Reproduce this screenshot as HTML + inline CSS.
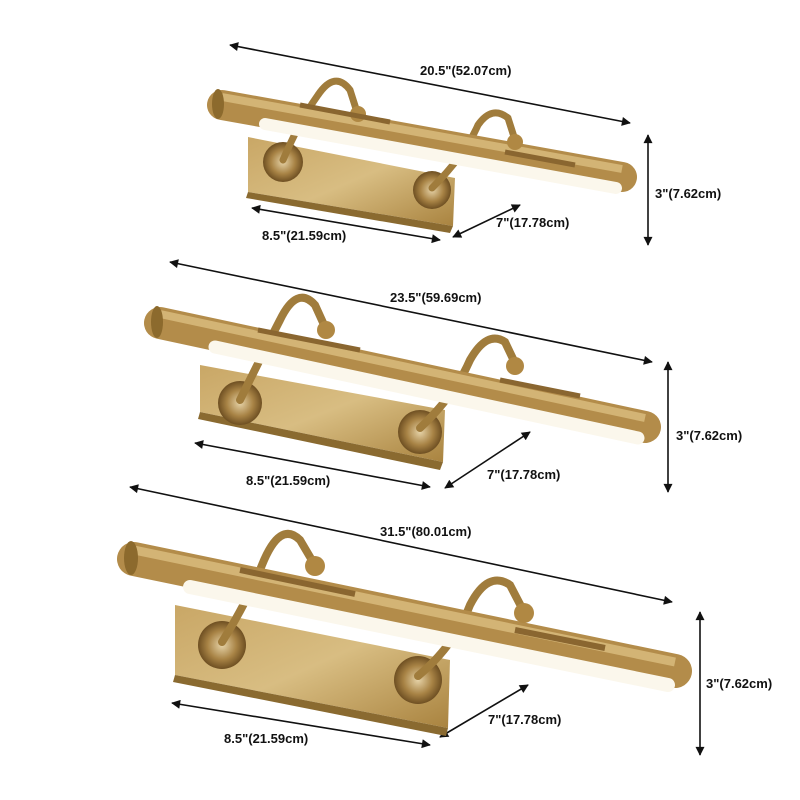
<!DOCTYPE html>
<html><head><meta charset="utf-8"><style>
html,body{margin:0;padding:0;background:#fff;}
svg{display:block}
text{font-family:"Liberation Sans",Arial,sans-serif;font-weight:bold;font-size:13px;fill:#111}
</style></head><body>
<svg width="800" height="800" viewBox="0 0 800 800" xmlns="http://www.w3.org/2000/svg">
<defs>
<marker id="ah" viewBox="0 0 10 10" refX="9" refY="5" markerWidth="11" markerHeight="9" orient="auto-start-reverse" markerUnits="userSpaceOnUse">
<path d="M0,0 L10,5 L0,10 Z" fill="#111"/></marker>
<linearGradient id="pl" x1="0" y1="0" x2="1" y2="1"><stop offset="0" stop-color="#c9a766"/><stop offset="0.5" stop-color="#d8bd82"/><stop offset="1" stop-color="#a9833f"/></linearGradient>
<radialGradient id="ro"><stop offset="0" stop-color="#e6d3a8"/><stop offset="0.6" stop-color="#a88345"/><stop offset="1" stop-color="#6e4f22"/></radialGradient>
</defs>
<g stroke="#111" stroke-width="1.6" fill="none" marker-start="url(#ah)" marker-end="url(#ah)">
<line x1="230" y1="45" x2="630" y2="123"/>
<line x1="648" y1="135" x2="648" y2="245"/>
<line x1="252" y1="208" x2="440" y2="240"/>
<line x1="453" y1="237" x2="520" y2="205"/>
<line x1="170" y1="262" x2="652" y2="362"/>
<line x1="668" y1="362" x2="668" y2="492"/>
<line x1="195" y1="443" x2="430" y2="487"/>
<line x1="445" y1="488" x2="530" y2="432"/>
<line x1="130" y1="487" x2="672" y2="602"/>
<line x1="700" y1="612" x2="700" y2="755"/>
<line x1="172" y1="703" x2="430" y2="745"/>
<line x1="440" y1="737" x2="528" y2="685"/>
</g>
<text x="420" y="75">20.5"(52.07cm)</text>
<text x="655" y="198">3"(7.62cm)</text>
<text x="262" y="240">8.5"(21.59cm)</text>
<text x="496" y="227">7"(17.78cm)</text>
<text x="390" y="302">23.5"(59.69cm)</text>
<text x="676" y="440">3"(7.62cm)</text>
<text x="246" y="485">8.5"(21.59cm)</text>
<text x="487" y="479">7"(17.78cm)</text>
<text x="380" y="536">31.5"(80.01cm)</text>
<text x="706" y="688">3"(7.62cm)</text>
<text x="224" y="743">8.5"(21.59cm)</text>
<text x="488" y="724">7"(17.78cm)</text>

<!-- Lamp 1 -->
<polygon points="248,137 455,178 453,226 248,192" fill="url(#pl)"/>
<polygon points="248,192 453,226 450,233 246,198" fill="#8a6a30"/>
<circle cx="283" cy="162" r="20" fill="url(#ro)"/>
<circle cx="432" cy="190" r="19" fill="url(#ro)"/>
<g fill="none" stroke="#a07c3c" stroke-width="7" stroke-linecap="round">
<path d="M283,160 Q300,120 318,95 Q335,70 350,90 L357,112"/>
<path d="M432,188 Q465,155 478,125 Q492,105 508,118 L515,140"/>
</g>
<line x1="222" y1="105" x2="622" y2="177" stroke="#b38c4a" stroke-width="30" stroke-linecap="round"/>
<line x1="222" y1="97" x2="622" y2="169" stroke="#d3b475" stroke-width="8"/>
<line x1="265" y1="124" x2="616" y2="188" stroke="#fbf7ec" stroke-width="12" stroke-linecap="round"/>
<ellipse cx="218" cy="104" rx="6" ry="15" fill="#8c6a2d"/>
<circle cx="358" cy="114" r="8" fill="#b08843"/>
<circle cx="515" cy="142" r="8" fill="#b08843"/>
<line x1="300" y1="105" x2="390" y2="122" stroke="#8a6630" stroke-width="5"/>
<line x1="505" y1="152" x2="575" y2="165" stroke="#8a6630" stroke-width="5"/>

<!-- Lamp 2 -->
<polygon points="200,365 445,410 443,462 200,412" fill="url(#pl)"/>
<polygon points="200,412 443,462 440,470 198,419" fill="#8a6a30"/>
<circle cx="240" cy="403" r="22" fill="url(#ro)"/>
<circle cx="420" cy="432" r="22" fill="url(#ro)"/>
<g fill="none" stroke="#a07c3c" stroke-width="8" stroke-linecap="round">
<path d="M240,400 Q262,355 280,320 Q297,285 315,305 L325,327"/>
<path d="M420,428 Q455,395 470,360 Q487,330 505,342 L515,363"/>
</g>
<line x1="160" y1="323" x2="645" y2="427" stroke="#b38c4a" stroke-width="32" stroke-linecap="round"/>
<line x1="160" y1="314" x2="645" y2="418" stroke="#d3b475" stroke-width="8"/>
<line x1="215" y1="347" x2="638" y2="438" stroke="#fbf7ec" stroke-width="13" stroke-linecap="round"/>
<ellipse cx="157" cy="322" rx="6" ry="16" fill="#8c6a2d"/>
<circle cx="326" cy="330" r="9" fill="#b08843"/>
<circle cx="515" cy="366" r="9" fill="#b08843"/>
<line x1="258" y1="330" x2="360" y2="350" stroke="#8a6630" stroke-width="5"/>
<line x1="500" y1="380" x2="580" y2="396" stroke="#8a6630" stroke-width="5"/>

<!-- Lamp 3 -->
<polygon points="175,605 450,660 448,728 175,675" fill="url(#pl)"/>
<polygon points="175,675 448,728 446,736 173,682" fill="#8a6a30"/>
<circle cx="222" cy="645" r="24" fill="url(#ro)"/>
<circle cx="418" cy="680" r="24" fill="url(#ro)"/>
<g fill="none" stroke="#a07c3c" stroke-width="8" stroke-linecap="round">
<path d="M222,642 Q248,600 262,565 Q280,520 300,540 L313,562"/>
<path d="M418,676 Q455,645 470,605 Q488,570 510,585 L523,610"/>
</g>
<line x1="134" y1="559" x2="675" y2="671" stroke="#b38c4a" stroke-width="34" stroke-linecap="round"/>
<line x1="134" y1="550" x2="675" y2="662" stroke="#d3b475" stroke-width="9"/>
<line x1="190" y1="587" x2="668" y2="685" stroke="#fbf7ec" stroke-width="14" stroke-linecap="round"/>
<ellipse cx="131" cy="558" rx="7" ry="17" fill="#8c6a2d"/>
<circle cx="315" cy="566" r="10" fill="#b08843"/>
<circle cx="524" cy="613" r="10" fill="#b08843"/>
<line x1="240" y1="570" x2="355" y2="594" stroke="#8a6630" stroke-width="6"/>
<line x1="515" y1="630" x2="605" y2="648" stroke="#8a6630" stroke-width="6"/>
</svg>
</body></html>
